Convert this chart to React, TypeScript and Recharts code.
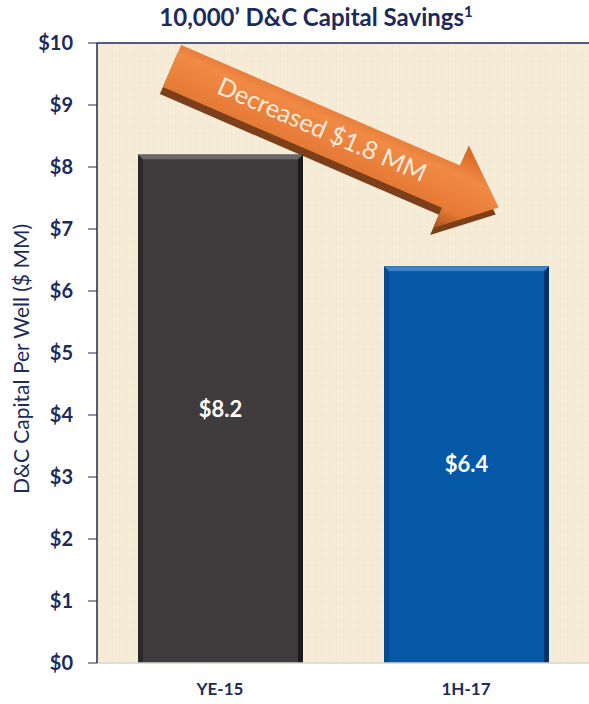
import React from 'react';
import {
  BarChart,
  Bar,
  XAxis,
  YAxis,
  CartesianGrid,
  ReferenceLine,
  LabelList,
  Cell,
  Customized,
} from 'recharts';

const periods = ['YE-15', '1H-17'];
const capitalPerWell = [8.2, 6.4];
const yTicks = [0, 1, 2, 3, 4, 5, 6, 7, 8, 9, 10];
const barColors = ['#3e3c3d', '#0558a6'];
const bevelColors = [
  { top: '#6a6869', side: '#2a2829', edge: '#1c1b1b' },
  { top: '#3b84c9', side: '#044a8e', edge: '#023468' },
];

const NAVY = '#1c2a5c';
const FONT = 'Lato, "Open Sans", sans-serif';

const data = periods.map((period, i) => ({ period, value: capitalPerWell[i] }));

// bar with a bevelled top and darker sides
function BevelBar(props: any) {
  const { x, y, width, height, index } = props;
  if (!height || height <= 0) return null;
  const b = 5;
  const c = bevelColors[index % bevelColors.length];
  const face = barColors[index % barColors.length];
  return (
    <g>
      <rect x={x} y={y} width={width} height={height} fill={c.edge} />
      <polygon
        points={`${x},${y} ${x + b},${y + b} ${x + b},${y + height} ${x},${y + height}`}
        fill={c.side}
      />
      <polygon
        points={`${x + width},${y} ${x + width},${y + height} ${x + width - b},${y + height} ${x + width - b},${y + b}`}
        fill={c.edge}
      />
      <rect x={x + b} y={y + b} width={width - 2 * b} height={height - b} fill={face} />
      <polygon
        points={`${x},${y} ${x + width},${y} ${x + width - b},${y + b} ${x + b},${y + b}`}
        fill={c.top}
      />
    </g>
  );
}

// title, axis title and the orange "decreased" arrow drawn over the plot
function Overlay() {
  const ox = 172;
  const oy = 66;
  const angle = 23.4;
  const shaft = 23;
  const head = 45;
  const neck = 304;
  const tip = 356;
  const pts = `0,${-shaft} ${neck},${-shaft} ${neck},${-head} ${tip},0 ${neck},${head} ${neck},${shaft} 0,${shaft}`;
  return (
    <g>
      <defs>
        <linearGradient id="arrowFace" x1="0" y1="0" x2="0" y2="1">
          <stop offset="0%" stopColor="#d4621f" />
          <stop offset="35%" stopColor="#f08a45" />
          <stop offset="75%" stopColor="#e57a35" />
          <stop offset="100%" stopColor="#a6521f" />
        </linearGradient>
      </defs>
      <text
        x={316}
        y={26}
        textAnchor="middle"
        fill={NAVY}
        fontFamily={FONT}
        fontWeight={700}
        fontSize={24}
      >
        10,000’ D&amp;C Capital Savings
        <tspan fontSize={15} dy={-9}>1</tspan>
      </text>
      <text
        transform="translate(29,359) rotate(-90)"
        textAnchor="middle"
        fill={NAVY}
        fontFamily={FONT}
        fontSize={21}
      >
        D&amp;C Capital Per Well ($ MM)
      </text>
      <g transform={`translate(${ox - 3},${oy + 7}) rotate(${angle})`}>
        <polygon points={pts} fill="#7c3f1a" />
      </g>
      <g transform={`translate(${ox},${oy}) rotate(${angle})`}>
        <polygon points={pts} fill="url(#arrowFace)" />
        <text
          x={163}
          y={1}
          textAnchor="middle"
          dominantBaseline="middle"
          fill="#fdebdc"
          fontFamily={FONT}
          fontSize={25}
        >
          Decreased $1.8 MM
        </text>
      </g>
    </g>
  );
}

export default function App() {
  return (
    <div style={{ position: 'absolute', left: 0, top: 0, width: 589, height: 704, background: '#fff' }}>
      <BarChart
        width={589}
        height={704}
        data={data}
        margin={{ top: 43, right: 0, bottom: 0, left: 0 }}
        barSize={165}
      >
        <defs>
          <pattern id="linen" width="7" height="9" patternUnits="userSpaceOnUse">
            <rect width="7" height="9" fill="#f5ebd6" />
            <rect x="0" width="1" height="9" fill="#efe3ca" opacity={0.35} />
            <rect y="4" width="7" height="1" fill="#f9f2e2" opacity={0.35} />
          </pattern>
        </defs>
        <CartesianGrid horizontal={false} vertical={false} fill="url(#linen)" />
        <XAxis
          dataKey="period"
          height={41}
          axisLine={{ stroke: '#d8d4cc', strokeWidth: 1.5 }}
          tickLine={false}
          tickMargin={14}
          tick={{ fill: NAVY, fontSize: 17, fontWeight: 700, fontFamily: FONT }}
        />
        <YAxis
          width={97}
          domain={[0, 10]}
          ticks={yTicks}
          interval={0}
          tickFormatter={(v: number) => `$${v}`}
          axisLine={{ stroke: NAVY, strokeWidth: 1.5 }}
          tickLine={{ stroke: NAVY }}
          tickSize={9}
          tickMargin={15}
          tick={{ fill: NAVY, fontSize: 20, fontWeight: 700, fontFamily: FONT }}
        />
        <ReferenceLine y={10} stroke={NAVY} strokeWidth={1.5} ifOverflow="visible" />
        <Bar dataKey="value" shape={<BevelBar />} isAnimationActive={false}>
          {data.map((d, i) => (
            <Cell key={d.period} fill={barColors[i]} />
          ))}
          <LabelList
            dataKey="value"
            position="center"
            formatter={(v: any) => `$${Number(v).toFixed(1)}`}
            fill="#ffffff"
            fontSize={22}
            fontWeight={700}
            fontFamily={FONT}
          />
        </Bar>
        <Customized component={<Overlay />} />
      </BarChart>
    </div>
  );
}
